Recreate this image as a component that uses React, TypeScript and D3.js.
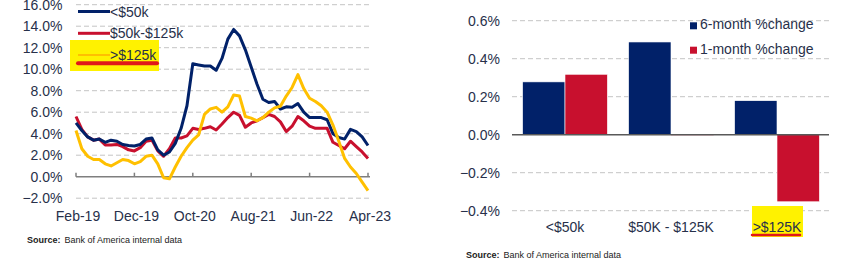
import React, { useRef, useEffect } from "react";
import * as d3 from "d3";

// Monthly card spending growth (%, YoY) by household income, Feb-19 .. Apr-23
const under50k = [
  5.0, 4.3, 3.7, 3.4, 3.5, 3.2, 3.4, 3.3, 3.0, 2.9,
  2.85, 3.0, 3.5, 3.6, 2.5, 2.0, 2.3, 3.1, 4.5, 6.6,
  10.5, 10.4, 10.3, 10.3, 9.9, 11.0, 12.8, 13.7, 13.1, 11.8,
  10.2, 8.6, 7.2, 6.9, 7.0, 6.3, 6.5, 6.45, 6.8, 6.0,
  5.5, 5.5, 5.5, 5.3, 4.0, 3.65, 3.5, 4.4, 4.2, 3.7, 2.9,
];
const mid50to125k = [
  5.6, 4.4, 3.7, 3.4, 3.5, 2.95, 2.95, 3.0, 2.8, 2.5,
  2.4, 2.7, 3.3, 3.4, 2.4, 1.9, 2.6, 3.6, 3.6, 3.8,
  4.5, 4.4, 4.5, 4.65, 4.35, 4.9, 5.5, 6.0, 5.7, 4.6,
  5.0, 5.2, 5.5, 5.8, 5.6, 5.1, 4.2, 4.7, 5.6, 5.2,
  4.7, 4.5, 4.5, 4.5, 3.2, 2.9, 2.6, 3.3, 2.8, 2.3, 1.7,
];
const over125k = [
  4.3, 2.6, 1.9, 1.6, 1.6, 1.2, 1.0, 1.3, 1.6, 1.5,
  1.2, 1.4, 1.9, 2.0, 1.2, -0.1, -0.2, 0.9, 1.9, 2.7,
  3.4, 3.9, 5.8, 6.3, 6.45, 6.0, 6.5, 7.6, 7.5, 5.6,
  5.45, 5.2, 5.5, 6.0, 6.4, 6.55, 7.5, 8.3, 9.5, 8.2,
  7.3, 7.0, 6.6, 6.0, 4.8, 3.3, 1.7, 0.9, 0.3, -0.5, -1.3,
];
const lineTicks = [16, 14, 12, 10, 8, 6, 4, 2, 0, -2];

// Right panel: % change by income group
const barCategories = ["<$50k", "$50K - $125K", ">$125K"];
const sixMonth = [0.278, 0.488, 0.179];
const oneMonth = [0.318, -0.004, -0.353];
const barTicks = [0.6, 0.4, 0.2, 0.0, -0.2, -0.4];

const NAVY = "#012169";
const RED = "#C8102E";
const YELLOW = "#FFC000";
const TEXT = "#27304a";
const FONT = "'Liberation Sans Narrow', 'Liberation Sans', sans-serif";

export default function App() {
  const svgRef = useRef<SVGSVGElement>(null);

  useEffect(() => {
    const svg = d3.select(svgRef.current);
    svg.selectAll("*").remove();
    svg.style("font-family", FONT);

    // ---------- left: line chart ----------
    const months = d3.timeMonth.range(new Date(2019, 1, 1), new Date(2023, 4, 1));
    const fmt = d3.timeFormat("%b-%y");
    const x = d3.scalePoint<number>().domain(d3.range(months.length)).range([76, 368]);
    const y = d3.scaleLinear().domain([-2, 16]).range([198.2, 4.7]);

    const left = svg.append("g");
    left.selectAll("line.grid")
      .data(lineTicks.filter(d => d !== 0))
      .join("line")
      .attr("x1", 76).attr("x2", 370)
      .attr("y1", d => y(d)).attr("y2", d => y(d))
      .attr("stroke", "#c4c4c4")
      .attr("stroke-dasharray", "5,3");

    left.selectAll("text.ytick")
      .data(lineTicks)
      .join("text")
      .attr("x", 62.5)
      .attr("y", d => y(d) + 5)
      .attr("text-anchor", "end")
      .attr("font-size", 14)
      .attr("fill", TEXT)
      .text(d => d3.format(".1f")(d) + "%");

    left.append("line")
      .attr("x1", 76).attr("x2", 370)
      .attr("y1", y(0)).attr("y2", y(0))
      .attr("stroke", "#7f7f7f").attr("stroke-width", 1.5);

    const tickIdx = d3.range(0, months.length, 10);
    left.selectAll("line.xtick")
      .data(tickIdx)
      .join("line")
      .attr("x1", d => x(d)!).attr("x2", d => x(d)!)
      .attr("y1", y(0) - 4).attr("y2", y(0))
      .attr("stroke", "#7f7f7f").attr("stroke-width", 1.5);

    left.selectAll("text.xlab")
      .data(tickIdx)
      .join("text")
      .attr("x", d => x(d)! + 2)
      .attr("y", 221)
      .attr("text-anchor", "middle")
      .attr("font-size", 14)
      .attr("fill", TEXT)
      .text(d => fmt(months[d]));

    const line = d3.line<number>().x((_, i) => x(i)!).y(d => y(d));
    [
      { values: mid50to125k, color: RED },
      { values: under50k, color: NAVY },
      { values: over125k, color: YELLOW },
    ].forEach(s => {
      left.append("path")
        .attr("d", line(s.values))
        .attr("fill", "none")
        .attr("stroke", s.color)
        .attr("stroke-width", 3)
        .attr("stroke-linejoin", "round");
    });

    // legend
    left.append("rect")
      .attr("x", 70).attr("y", 40).attr("width", 89).attr("height", 31)
      .attr("fill", "#FFF200");
    const legend = [
      { label: "<$50k", color: NAVY, y: 11.5, w: 3 },
      { label: "$50k-$125k", color: RED, y: 33.3, w: 3 },
      { label: ">$125k", color: YELLOW, y: 55, w: 2 },
    ];
    legend.forEach(l => {
      left.append("line")
        .attr("x1", 78).attr("x2", 110)
        .attr("y1", l.y).attr("y2", l.y)
        .attr("stroke", l.color).attr("stroke-width", l.w);
      left.append("text")
        .attr("x", 110).attr("y", l.y + 5)
        .attr("font-size", 14).attr("fill", TEXT)
        .text(l.label);
    });
    left.append("line")
      .attr("x1", 78).attr("x2", 157)
      .attr("y1", 63.3).attr("y2", 63.3)
      .attr("stroke", "#E0181A").attr("stroke-width", 4)
      .attr("stroke-linecap", "round");

    const src1 = left.append("text").attr("x", 27).attr("y", 243).attr("font-size", 9).attr("fill", "#222");
    src1.append("tspan").attr("font-weight", "bold").text("Source:");
    src1.append("tspan").attr("dx", 4).text("Bank of America internal data");

    // ---------- right: bar chart ----------
    const yb = d3.scaleLinear().domain([-0.4, 0.6]).range([210.7, 20.7]);
    const xb = d3.scaleBand().domain(barCategories).range([512, 830])
      .paddingInner(0.2).paddingOuter(0.1);
    const xs = d3.scaleBand().domain(["6m", "1m"]).range([0, xb.bandwidth()]);

    const right = svg.append("g");
    right.selectAll("line.grid")
      .data(barTicks.filter(d => d !== 0))
      .join("line")
      .attr("x1", 512).attr("x2", 830)
      .attr("y1", d => yb(d)).attr("y2", d => yb(d))
      .attr("stroke", "#c4c4c4")
      .attr("stroke-dasharray", "5,3");

    right.selectAll("text.ytick")
      .data(barTicks)
      .join("text")
      .attr("x", 500)
      .attr("y", d => yb(d) + 5)
      .attr("text-anchor", "end")
      .attr("font-size", 14)
      .attr("fill", TEXT)
      .text(d => d3.format(".1f")(d) + "%");

    const barData = barCategories.flatMap((c, i) => [
      { cat: c, key: "6m", v: sixMonth[i], color: NAVY },
      { cat: c, key: "1m", v: oneMonth[i], color: RED },
    ]);
    right.selectAll("rect.bar")
      .data(barData)
      .join("rect")
      .attr("x", d => xb(d.cat)! + xs(d.key)!)
      .attr("width", xs.bandwidth())
      .attr("y", d => yb(Math.max(0, d.v)))
      .attr("height", d => Math.abs(yb(d.v) - yb(0)))
      .attr("fill", d => d.color)
      .attr("stroke", "#fff").attr("stroke-width", 0.6);

    right.append("line")
      .attr("x1", 512).attr("x2", 829)
      .attr("y1", yb(0)).attr("y2", yb(0))
      .attr("stroke", "#595959").attr("stroke-width", 1.5);

    // highlighted category
    right.append("rect")
      .attr("x", 752).attr("y", 206).attr("width", 51).attr("height", 31)
      .attr("fill", "#FFF200");
    right.append("line")
      .attr("x1", 752).attr("x2", 800)
      .attr("y1", 235).attr("y2", 235)
      .attr("stroke", "#E0181A").attr("stroke-width", 2.5)
      .attr("stroke-linecap", "round");

    right.selectAll("text.xlab")
      .data(barCategories)
      .join("text")
      .attr("x", d => xb(d)! + xb.bandwidth() / 2)
      .attr("y", 232)
      .attr("text-anchor", "middle")
      .attr("font-size", 14)
      .attr("fill", TEXT)
      .text(d => d);

    [
      { label: "6-month %change", color: NAVY, y: 22.3 },
      { label: "1-month %change", color: RED, y: 46.7 },
    ].forEach(l => {
      right.append("rect")
        .attr("x", 690).attr("y", l.y).attr("width", 7).attr("height", 7)
        .attr("fill", l.color);
      right.append("text")
        .attr("x", 700).attr("y", l.y + 7)
        .attr("font-size", 14).attr("fill", TEXT)
        .text(l.label);
    });

    const src2 = right.append("text").attr("x", 466).attr("y", 258).attr("font-size", 9).attr("fill", "#222");
    src2.append("tspan").attr("font-weight", "bold").text("Source:");
    src2.append("tspan").attr("dx", 4).text("Bank of America internal data");
  }, []);

  return (
    <svg
      ref={svgRef}
      width={853}
      height={263}
      style={{ position: "absolute", left: 0, top: 0, background: "#fff" }}
    />
  );
}
